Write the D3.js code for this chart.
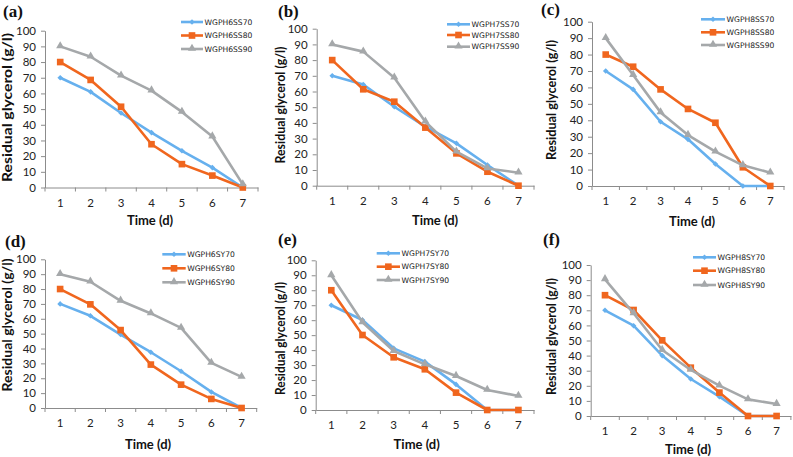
<!DOCTYPE html>
<html>
<head>
<meta charset="utf-8">
<script src="https://cdn.jsdelivr.net/npm/d3@7"></script>
<style>
  html, body { margin: 0; padding: 0; background: #fff; }
  svg { display: block; }
</style>
</head>
<body>
<svg id="chart" width="793" height="457"></svg>
<script>
// ---------------- DATA ----------------
const days = [1, 2, 3, 4, 5, 6, 7];
const yTicks = [0, 10, 20, 30, 40, 50, 60, 70, 80, 90, 100];
const panelLetters = ["(a)", "(b)", "(c)", "(d)", "(e)", "(f)"];
const seriesNames = [
  ["WGPH6SS70", "WGPH6SS80", "WGPH6SS90"],
  ["WGPH7SS70", "WGPH7SS80", "WGPH7SS90"],
  ["WGPH8SS70", "WGPH8SS80", "WGPH8SS90"],
  ["WGPH6SY70", "WGPH6SY80", "WGPH6SY90"],
  ["WGPH7SY70", "WGPH7SY80", "WGPH7SY90"],
  ["WGPH8SY70", "WGPH8SY80", "WGPH8SY90"]
];
// panel (a)
const a70 = [70, 61, 47.5, 35, 23.4, 12.7, 0];
const a80 = [80, 68.6, 51.5, 27.6, 14.9, 7.6, 0];
const a90 = [90, 83.4, 71.3, 61.8, 48.2, 32.5, 2];
// panel (b)
const b70 = [70, 64.5, 50.3, 37.6, 27, 13.2, 0];
const b80 = [80, 61.4, 53.5, 37, 20.6, 8.9, 0];
const b90 = [90, 85.4, 68.8, 40.8, 21.7, 11, 8.3];
// panel (c)
const c70 = [70, 58.8, 39.1, 28.4, 13.4, 0, 0];
const c80 = [80, 72.6, 58.8, 46.9, 38.5, 11.4, 0];
const c90 = [90, 67.5, 44.8, 31, 20.9, 12.6, 8.1];
// panel (d)
const d70 = [70, 62, 49.4, 37.5, 24.7, 10.8, 0];
const d80 = [80, 69.7, 52.4, 29.2, 15.7, 6.1, 0];
const d90 = [90, 84.9, 72.1, 63.6, 53.9, 30.3, 20.9];
// panel (e)
const e70 = [70, 60.1, 41.2, 32.3, 17.1, 0, 0];
const e80 = [80, 50.1, 35.2, 27.2, 11.6, 0, 0];
const e90 = [90, 58.6, 39.4, 30.5, 22.7, 13.4, 9.4];
// panel (f)
const f70 = [70, 59.8, 40, 24.5, 12.8, 0, 0];
const f80 = [80, 70.2, 50.1, 32, 15.5, 0, 0];
const f90 = [90.5, 68, 43.7, 30.5, 20.1, 11, 7.9];

const panelData = [
  [a70, a80, a90], [b70, b80, b90], [c70, c80, c90],
  [d70, d80, d90], [e70, e80, e90], [f70, f80, f90]
];

// ---------------- LAYOUT ----------------
const layout = [
  { x0: 45,    x1: 258,   y0: 187.5, y1: 30.7,  lab: [3, 17],    yt: [8, 107.5, 149],   xt: [150, 220],
    leg: { lx0: 181, lx1: 203, rows: [22, 35.5, 49] } },
  { x0: 316.7, x1: 534,   y0: 185.7, y1: 28.7,  lab: [278, 17],  yt: [281, 105, 117],   xt: [435, 220],
    leg: { lx0: 447, lx1: 470, rows: [24.3, 35, 46.7] } },
  { x0: 592,   x1: 784,   y0: 186,   y1: 21.7,  lab: [541, 15],  yt: [552, 100, 120],   xt: [692, 221.7],
    leg: { lx0: 701, lx1: 725, rows: [19.3, 32.3, 45] } },
  { x0: 45,    x1: 256.7, y0: 408,   y1: 259.3, lab: [5, 247],   yt: [7.5, 325, 133],   xt: [148, 444],
    leg: { lx0: 162.3, lx1: 185.7, rows: [254.3, 268.3, 282.3] } },
  { x0: 315.7, x1: 534,   y0: 410,   y1: 260.3, lab: [278, 245], yt: [281, 338.5, 113], xt: [416.7, 444.3],
    leg: { lx0: 376.7, lx1: 400, rows: [253.3, 266.7, 280] } },
  { x0: 590.7, x1: 790.9, y0: 416,   y1: 265,   lab: [543, 245], yt: [552, 336.5, 117], xt: [688, 449.3],
    leg: { lx0: 693, lx1: 716, rows: [257.3, 270.7, 285] } }
];

const colors = ["#66b0ee", "#f0661e", "#a5a8aa"];
const axisColor = "#8c8c8c";
const tickFont = "Lato, 'Open Sans', sans-serif";

const svg = d3.select("#chart");

function drawMarker(g, kind, cx, cy, color) {
  if (kind === 0) {
    g.append("path")
      .attr("d", d3.symbol().type(d3.symbolDiamond2).size(20)())
      .attr("transform", `translate(${cx},${cy})`)
      .attr("fill", color);
  } else if (kind === 1) {
    g.append("path")
      .attr("d", d3.symbol().type(d3.symbolSquare).size(44)())
      .attr("transform", `translate(${cx},${cy})`)
      .attr("fill", color);
  } else {
    g.append("path")
      .attr("d", d3.symbol().type(d3.symbolTriangle).size(29)())
      .attr("transform", `translate(${cx},${cy - 0.5})`)
      .attr("fill", color);
  }
}

layout.forEach((L, pi) => {
  const g = svg.append("g");
  const x = d3.scaleBand().domain(days).range([L.x0, L.x1]).paddingInner(0).paddingOuter(0);
  const y = d3.scaleLinear().domain([0, 100]).range([L.y0, L.y1]);

  // y axis
  const ya = g.append("g").attr("transform", `translate(${L.x0},0)`)
    .call(d3.axisLeft(y).tickValues(yTicks).tickSize(4).tickPadding(5).tickSizeOuter(0));
  ya.select(".domain").attr("stroke", axisColor);
  ya.selectAll(".tick line").attr("stroke", axisColor);
  ya.selectAll("text").attr("font-family", tickFont).attr("font-size", 11.5).attr("fill", "#222");

  // x axis (labels at band centres, ticks at band boundaries)
  const xa = g.append("g").attr("transform", `translate(0,${L.y0})`)
    .call(d3.axisBottom(x).tickSize(0).tickPadding(11).tickSizeOuter(0));
  xa.select(".domain").attr("stroke", axisColor);
  xa.selectAll("text").attr("font-family", tickFont).attr("font-size", 11.5).attr("fill", "#222");
  const bounds = days.map(d => x(d)).concat([x(days[days.length - 1]) + x.step()]);
  g.selectAll(".xb").data(bounds).enter().append("line")
    .attr("x1", d => d).attr("x2", d => d)
    .attr("y1", L.y0).attr("y2", L.y0 + 4)
    .attr("stroke", axisColor);

  // series
  const line = d3.line().x((v, i) => x(days[i]) + x.bandwidth() / 2).y(v => y(v));
  panelData[pi].forEach((vals, si) => {
    const sg = g.append("g");
    sg.append("path").attr("d", line(vals)).attr("fill", "none")
      .attr("stroke", colors[si]).attr("stroke-width", 2.6).attr("stroke-linejoin", "round");
    vals.forEach((v, i) => drawMarker(sg, si, x(days[i]) + x.bandwidth() / 2, y(v), colors[si]));
  });

  // legend
  seriesNames[pi].forEach((name, si) => {
    const ry = L.leg.rows[si];
    g.append("line").attr("x1", L.leg.lx0).attr("x2", L.leg.lx1).attr("y1", ry).attr("y2", ry)
      .attr("stroke", colors[si]).attr("stroke-width", 2.6);
    drawMarker(g, si, (L.leg.lx0 + L.leg.lx1) / 2, ry, colors[si]);
    g.append("text").attr("x", L.leg.lx1 + 1.5).attr("y", ry).attr("dy", "0.35em")
      .attr("font-family", "'DejaVu Sans', sans-serif").attr("font-size", 7.6).attr("fill", "#222")
      .text(name);
  });

  // axis titles
  g.append("text")
    .attr("transform", `translate(${L.yt[0]},${L.yt[1]}) rotate(-90)`)
    .attr("text-anchor", "middle").attr("dy", "0.35em")
    .attr("font-family", tickFont).attr("font-weight", "bold").attr("font-size", 12.5)
    .attr("textLength", L.yt[2]).attr("lengthAdjust", "spacingAndGlyphs")
    .attr("fill", "#111")
    .text("Residual glycerol (g/l)");
  g.append("text")
    .attr("x", L.xt[0]).attr("y", L.xt[1]).attr("dy", "0.35em").attr("text-anchor", "middle")
    .attr("font-family", tickFont).attr("font-weight", "bold").attr("font-size", 13)
    .attr("fill", "#111")
    .text("Time (d)");

  // panel letter
  g.append("text").attr("x", L.lab[0]).attr("y", L.lab[1])
    .attr("font-family", "'Liberation Serif', 'Times New Roman', serif")
    .attr("font-weight", "bold").attr("font-size", 17).attr("fill", "#111")
    .text(panelLetters[pi]);
});
</script>
</body>
</html>
